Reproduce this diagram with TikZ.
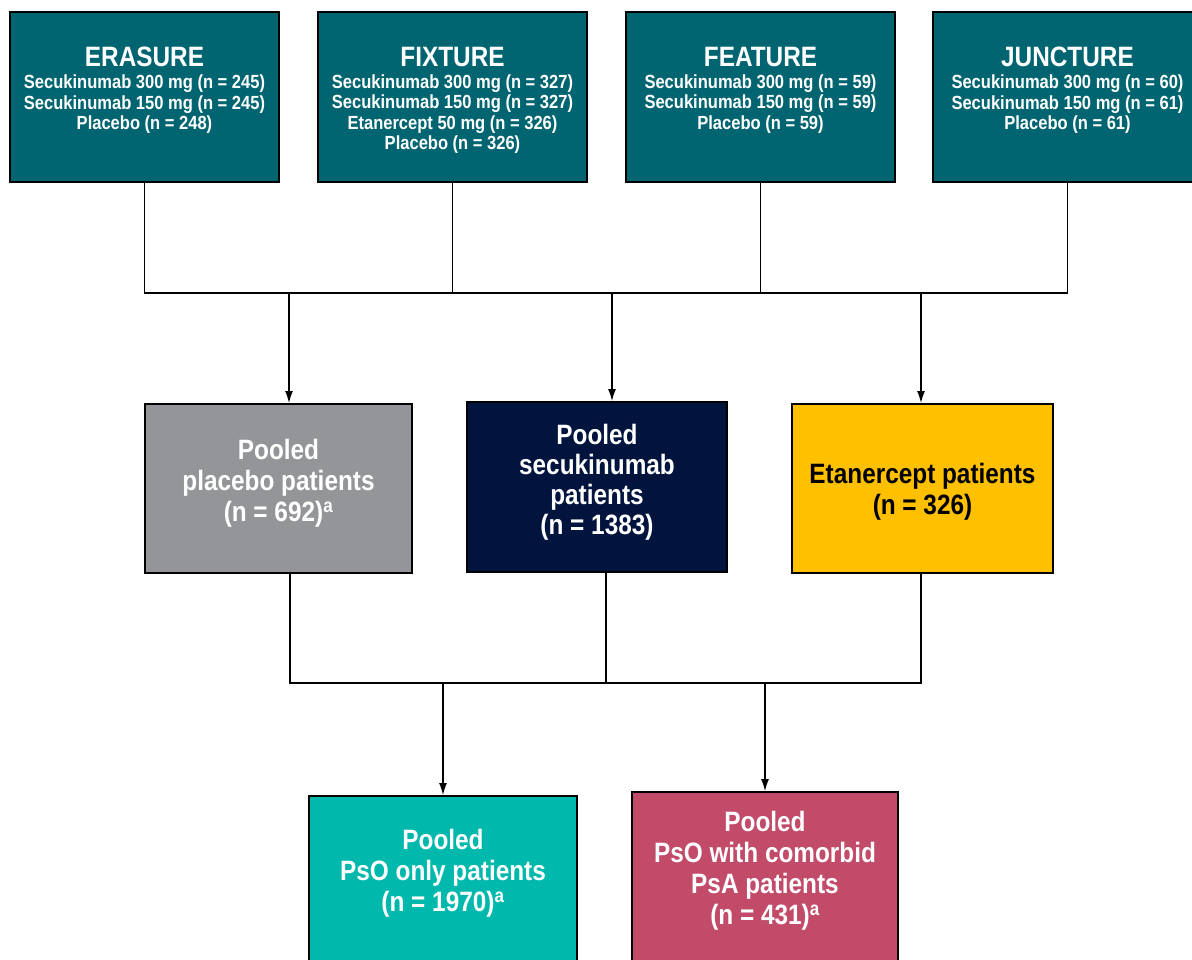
\documentclass[tikz,border=0pt]{standalone}
\usepackage{fontspec}
\setmainfont{Liberation Sans}[FakeStretch=0.87]
\usetikzlibrary{positioning,arrows.meta}
\definecolor{trialteal}{RGB}{0,101,112}
\definecolor{placebogray}{RGB}{147,149,152}
\definecolor{secuknavy}{RGB}{0,20,61}
\definecolor{etanyellow}{RGB}{255,192,0}
\definecolor{psoteal}{RGB}{0,184,172}
\definecolor{psapink}{RGB}{194,75,105}
\newcommand{\trialtitle}[1]{{\fontsize{28}{30}\selectfont #1}}
\begin{document}
\begin{tikzpicture}[
		x=1pt, y=-1pt,
		box/.style={draw=black, line width=2pt, inner sep=0pt},
		trial/.style={box, fill=trialteal, minimum width=269pt, minimum height=170pt},
		trialtext/.style={text=white, align=center, inner sep=0pt,
				font=\bfseries\fontsize{19}{20.5}\selectfont},
		pooltext/.style={text=white, align=center, inner sep=0pt,
				font=\bfseries\fontsize{28}{31}\selectfont},
		link/.style={draw=black, line width=1.2pt},
		arr/.style={link, -{Latex[length=12pt,width=8pt]}}
	]
	\useasboundingbox (0,0) rectangle (1192,959);
	\clip (0,0) rectangle (1192,959);

	% trials
	\node[trial] (erasure) at (144.5,97) {};
	\node[trial] (fixture) at (452.5,97) {};
	\node[trial] (feature) at (760.5,97) {};
	\node[trial] (juncture) at (1067.5,97) {};

	\node[trialtext, below=36pt of erasure.north] (erasuretxt) {\trialtitle{ERASURE}\\[1.5pt]
		Secukinumab 300 mg (n = 245)\\ Secukinumab 150 mg (n = 245)\\ Placebo (n = 248)};
	\node[trialtext, below=36pt of fixture.north] (fixturetxt) {\trialtitle{FIXTURE}\\[1.5pt]
		Secukinumab 300 mg (n = 327)\\ Secukinumab 150 mg (n = 327)\\
		Etanercept 50 mg (n = 326)\\ Placebo (n = 326)};
	\node[trialtext, below=36pt of feature.north] (featuretxt) {\trialtitle{FEATURE}\\[1.5pt]
		Secukinumab 300 mg (n = 59)\\ Secukinumab 150 mg (n = 59)\\ Placebo (n = 59)};
	\node[trialtext, below=36pt of juncture.north] (juncturetxt) {\trialtitle{JUNCTURE}\\[1.5pt]
		Secukinumab 300 mg (n = 60)\\ Secukinumab 150 mg (n = 61)\\ Placebo (n = 61)};

	% pooled groups
	\node[box, fill=placebogray, minimum width=267pt, minimum height=169pt] (placebo) at (278.5,488.5) {};
	\node[box, fill=secuknavy, minimum width=260pt, minimum height=170pt] (secuk) at (597,487) {};
	\node[box, fill=etanyellow, minimum width=261pt, minimum height=169pt] (etan) at (922.5,488.5) {};

	\node[pooltext, below=36pt of placebo.north] (placebotxt) {Pooled\\ placebo patients\\ (n = 692)\textsuperscript{a}};
	\node[pooltext, below=23pt of secuk.north, font=\bfseries\fontsize{28}{30}\selectfont] (secuktxt) {Pooled\\ secukinumab\\ patients\\ (n = 1383)};
	\node[pooltext, text=black, below=60pt of etan.north] (etantxt) {Etanercept patients\\ (n = 326)};

	% comorbidity groups
	\node[box, fill=psoteal, minimum width=268pt, minimum height=200pt] (psoonly) at (443,896) {};
	\node[box, fill=psapink, minimum width=266pt, minimum height=200pt] (psapsa) at (765,892) {};

	\node[pooltext, below=34pt of psoonly.north] (psoonlytxt) {Pooled\\ PsO only patients\\ (n = 1970)\textsuperscript{a}};
	\node[pooltext, below=20pt of psapsa.north] (psapsatxt) {Pooled\\ PsO with comorbid\\ PsA patients\\ (n = 431)\textsuperscript{a}};

	\coordinate (b1) at (289,293);
	\coordinate (b2) at (612,293);
	\coordinate (b3) at (921,293);
	\coordinate (c1) at (290,683);
	\coordinate (c2) at (606,683);
	\coordinate (c3) at (921,683);
	\coordinate (d1) at (443,683);
	\coordinate (d2) at (765,683);

	\draw[link] (erasure.south) |- (juncture.south |- b1) -- (juncture.south);
	\draw[link] (fixture.south) -- (fixture.south |- b1);
	\draw[link] (feature.south) -- (feature.south |- b1);
	\foreach \b/\n in {b1/placebo, b2/secuk, b3/etan}
		\draw[arr] (\b) -- (\b |- \n.north);

	\draw[link] (c1 |- placebo.south) -- (c1) -- (c3) -- (c3 |- etan.south);
	\draw[link] (c2 |- secuk.south) -- (c2);
	\foreach \d/\n in {d1/psoonly, d2/psapsa}
		\draw[arr] (\d) -- (\d |- \n.north);
\end{tikzpicture}
\end{document}
